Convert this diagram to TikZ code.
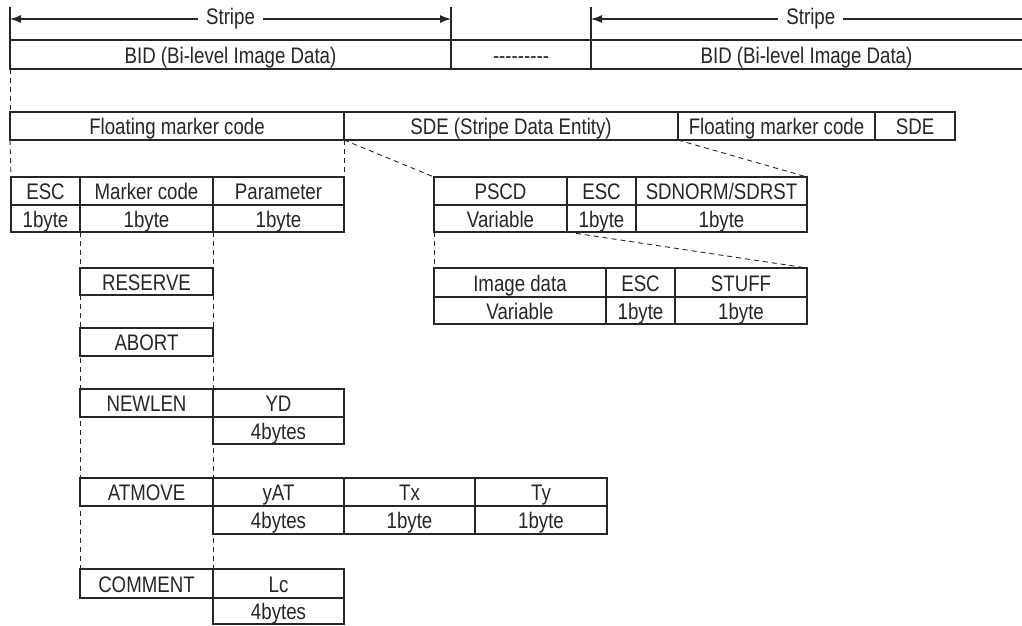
\documentclass[tikz,border=0pt]{standalone}
\usepackage{fontspec}
\setmainfont{Liberation Sans}[FakeStretch=0.83]
\newfontfamily\hyfont{Liberation Sans}[FakeStretch=0.83,Ligatures=TeXOff]
\usetikzlibrary{arrows.meta}
\newcommand{\cellbox}[6]{\node[cell,minimum width={#4-#2},minimum height={#5-#3}] (#1) at ({(#2+#4)/2},{(#3+#5)/2}) {#6};}
\begin{document}
\begin{tikzpicture}[x=1pt,y=-1pt,line width=1.1pt,color=black!85,
  cell/.style={draw,inner sep=0pt,outer sep=0pt,text height=17.5pt,text depth=0pt,font=\fontsize{22.5}{26}\selectfont},
  conn/.style={line width=0.9pt,dash pattern=on 5pt off 4pt},
  lbl/.style={fill=white,inner xsep=8pt,inner ysep=0pt,font=\fontsize{22.5}{26}\selectfont}]
\useasboundingbox (0,0) rectangle (1022,625);
% BID row
\cellbox{bida}{10}{40}{451}{69}{BID (Bi-level Image Data)}
\cellbox{bidm}{451}{40}{591}{69}{\hyfont ---------}
\node[cell,draw=none,minimum width=431,minimum height=29] (bidb) at (806.5,54.5) {BID (Bi-level Image Data)};
\draw (bidb.north west) -- (bidb.north east) (bidb.south west) -- (bidb.south east);
\draw[line width=2pt] (bidm.north east) -- (bidm.south east);
% stripe arrows
\coordinate (ta) at (10,7);
\coordinate (tb) at (451,7);
\coordinate (tc) at (591,7);
\coordinate (aa) at (10,19);
\coordinate (ab) at (451,19);
\coordinate (ac) at (591,19);
\coordinate (ad) at (1022,19);
\draw (ta) -- (bida.north west);
\draw (tb) -- (bidm.north west);
\draw (tc) -- (bidb.north west);
\draw[{Latex[length=11pt,width=8pt]}-{Latex[length=11pt,width=8pt]}] (aa) -- (ab) node[lbl,midway] {Stripe};
\draw[{Latex[length=11pt,width=8pt]}-] (ac) -- (ad) node[lbl,pos=0.51] {Stripe};
% floating row
\cellbox{fmca}{10}{112}{344}{140}{Floating marker code}
\cellbox{sdea}{344}{112}{678}{140}{SDE (Stripe Data Entity)}
\cellbox{fmcb}{678}{112}{875}{140}{Floating marker code}
\cellbox{sdeb}{875}{112}{955}{140}{SDE}
% ESC group
\cellbox{esc}{11}{177}{80}{205}{ESC}
\cellbox{escb}{11}{205}{80}{232}{1byte}
\cellbox{mc}{80}{177}{213}{205}{Marker code}
\cellbox{mcb}{80}{205}{213}{232}{1byte}
\cellbox{par}{213}{177}{344}{205}{Parameter}
\cellbox{parb}{213}{205}{344}{232}{1byte}
% PSCD group
\cellbox{pscd}{434}{177}{567}{205}{PSCD}
\cellbox{pscdb}{434}{205}{567}{232}{Variable}
\cellbox{escp}{567}{177}{636}{205}{ESC}
\cellbox{escpb}{567}{205}{636}{232}{1byte}
\cellbox{sdn}{636}{177}{807}{205}{SDNORM/SDRST}
\cellbox{sdnb}{636}{205}{807}{232}{1byte}
% image data group
\cellbox{img}{434}{268}{606}{297}{Image data}
\cellbox{imgb}{434}{297}{606}{324}{Variable}
\cellbox{esci}{606}{268}{675}{297}{ESC}
\cellbox{escib}{606}{297}{675}{324}{1byte}
\cellbox{stf}{675}{268}{807}{297}{STUFF}
\cellbox{stfb}{675}{297}{807}{324}{1byte}
% marker codes
\cellbox{res}{80}{268}{213}{295}{RESERVE}
\cellbox{abo}{80}{328}{213}{356}{ABORT}
\cellbox{nwl}{80}{389}{213}{417}{NEWLEN}
\cellbox{yd}{213}{389}{344}{417}{YD}
\cellbox{ydb}{213}{417}{344}{444}{4bytes}
\cellbox{atm}{80}{478}{213}{506}{ATMOVE}
\cellbox{yat}{213}{478}{344}{506}{yAT}
\cellbox{tx}{344}{478}{475}{506}{Tx}
\cellbox{ty}{475}{478}{607}{506}{Ty}
\cellbox{yatb}{213}{506}{344}{534}{4bytes}
\cellbox{txb}{344}{506}{475}{534}{1byte}
\cellbox{tyb}{475}{506}{607}{534}{1byte}
\cellbox{com}{80}{569}{213}{598}{COMMENT}
\cellbox{lc}{213}{569}{344}{598}{Lc}
\cellbox{lcb}{213}{598}{344}{624}{4bytes}
% dashed connectors
\draw[conn] (bida.south west) -- (fmca.north west);
\draw[conn] (fmca.south west) -- (esc.north west);
\draw[conn] (fmca.south east) -- (par.north east);
\draw[conn] (sdea.south west) -- (pscd.north west);
\draw[conn] (sdea.south east) -- (sdn.north east);
\draw[conn] (pscdb.south west) -- (img.north west);
\draw[conn] (escpb.south west) -- (stf.north east);
\draw[conn] (mcb.south west) -- (com.north west);
\draw[conn] (mcb.south east) -- (com.north east);
\end{tikzpicture}
\end{document}
